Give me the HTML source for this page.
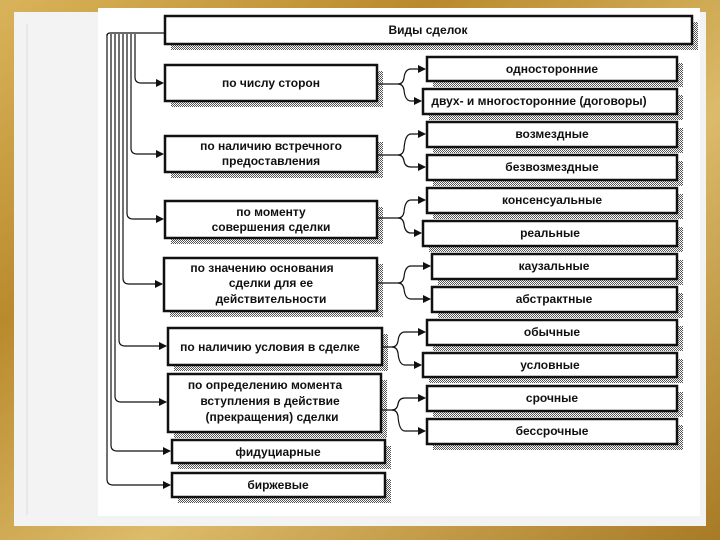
<!DOCTYPE html>
<html><head><meta charset="utf-8"><style>
html,body{margin:0;padding:0;width:720px;height:540px;overflow:hidden;background:#c9a042}
svg{display:block}
text{font-family:"Liberation Sans",Arial,sans-serif;font-size:12px;font-weight:bold;fill:#111}
</style></head><body>
<svg width="720" height="540" viewBox="0 0 720 540" xmlns="http://www.w3.org/2000/svg">
<defs>
<linearGradient id="gold" x1="0" y1="0" x2="1" y2="1">
<stop offset="0" stop-color="#d9b35a"/><stop offset="0.3" stop-color="#b98a2c"/><stop offset="0.6" stop-color="#dcbb6a"/><stop offset="1" stop-color="#a87a25"/></linearGradient>
<pattern id="chk" width="2" height="2" patternUnits="userSpaceOnUse"><rect width="2" height="2" fill="#fff"/><rect width="1" height="1" fill="#555"/><rect x="1" y="1" width="1" height="1" fill="#555"/></pattern>
<marker id="ar" markerWidth="8" markerHeight="8" refX="7" refY="4" orient="auto" markerUnits="userSpaceOnUse"><path d="M0,0 L8,4 L0,8 Z" fill="#111"/></marker>
</defs>
<rect width="720" height="540" fill="url(#gold)"/>
<rect x="14" y="12" width="692" height="514" fill="#f3f3f3"/>
<rect x="98" y="8" width="602" height="508" fill="#fff"/>
<line x1="27" y1="24" x2="27" y2="515" stroke="#ddd" stroke-width="1"/>
<g id="shadows" fill="url(#chk)">
<rect x="171" y="22" width="527" height="28"/>
<rect x="171" y="71" width="212" height="36"/>
<rect x="171" y="142" width="212" height="36"/>
<rect x="171" y="207" width="212" height="37"/>
<rect x="170" y="264" width="213" height="53"/>
<rect x="174" y="334" width="214" height="37"/>
<rect x="174" y="380" width="213" height="58"/>
<rect x="178" y="446" width="213" height="23"/>
<rect x="178" y="479" width="213" height="24"/>
<rect x="433" y="63" width="250" height="24"/>
<rect x="429" y="95" width="254" height="25"/>
<rect x="433" y="128" width="250" height="25"/>
<rect x="433" y="161" width="250" height="25"/>
<rect x="433" y="194" width="250" height="25"/>
<rect x="429" y="227" width="254" height="25"/>
<rect x="438" y="260" width="245" height="25"/>
<rect x="438" y="293" width="245" height="25"/>
<rect x="433" y="326" width="250" height="25"/>
<rect x="429" y="359" width="254" height="24"/>
<rect x="433" y="392" width="250" height="25"/>
<rect x="433" y="425" width="250" height="25"/>
</g>
<g fill="#fff" stroke="#111" stroke-width="2.5">
<rect x="165" y="16" width="527" height="28"/>
<rect x="165" y="65" width="212" height="36"/>
<rect x="165" y="136" width="212" height="36"/>
<rect x="165" y="201" width="212" height="37"/>
<rect x="164" y="258" width="213" height="53"/>
<rect x="168" y="328" width="214" height="37"/>
<rect x="168" y="374" width="213" height="58"/>
<rect x="172" y="440" width="213" height="23"/>
<rect x="172" y="473" width="213" height="24"/>
<rect x="427" y="57" width="250" height="24"/>
<rect x="423" y="89" width="254" height="25"/>
<rect x="427" y="122" width="250" height="25"/>
<rect x="427" y="155" width="250" height="25"/>
<rect x="427" y="188" width="250" height="25"/>
<rect x="423" y="221" width="254" height="25"/>
<rect x="432" y="254" width="245" height="25"/>
<rect x="432" y="287" width="245" height="25"/>
<rect x="427" y="320" width="250" height="25"/>
<rect x="423" y="353" width="254" height="24"/>
<rect x="427" y="386" width="250" height="25"/>
<rect x="427" y="419" width="250" height="25"/>
</g>
<g fill="none" stroke="#111" stroke-width="1.2">
<path d="M165,33 H110 Q107,33 107,36"/>
<path d="M135,34 V77 Q135,83 141,83 H163" marker-end="url(#ar)"/>
<path d="M131,34 V148 Q131,154 137,154 H163" marker-end="url(#ar)"/>
<path d="M127,34 V213 Q127,219 133,219 H163" marker-end="url(#ar)"/>
<path d="M123,34 V278 Q123,284 129,284 H162" marker-end="url(#ar)"/>
<path d="M119,34 V340 Q119,346 125,346 H166" marker-end="url(#ar)"/>
<path d="M115,34 V396 Q115,402 121,402 H166" marker-end="url(#ar)"/>
<path d="M111,34 V445 Q111,451 117,451 H170" marker-end="url(#ar)"/>
<path d="M107,34 V479 Q107,485 113,485 H170" marker-end="url(#ar)"/>
<path d="M377,84 H398 Q403,84 404,78 Q405,69 411,69 H425" marker-end="url(#ar)"/>
<path d="M398,84 Q403,84 404,90 Q405,101 411,101 H421" marker-end="url(#ar)"/>
<path d="M377,155 H398 Q403,155 404,149 Q405,134 411,134 H425" marker-end="url(#ar)"/>
<path d="M398,155 Q403,155 404,161 Q405,167 411,167 H425" marker-end="url(#ar)"/>
<path d="M377,218 H398 Q403,218 404,212 Q405,200 411,200 H425" marker-end="url(#ar)"/>
<path d="M398,218 Q403,218 404,224 Q405,233 411,233 H421" marker-end="url(#ar)"/>
<path d="M377,283 H398 Q403,283 404,277 Q405,266 411,266 H430" marker-end="url(#ar)"/>
<path d="M398,283 Q403,283 404,289 Q405,299 411,299 H430" marker-end="url(#ar)"/>
<path d="M382,347 H392 Q397,347 398,341 Q399,332 405,332 H425" marker-end="url(#ar)"/>
<path d="M392,347 Q397,347 398,353 Q399,365 405,365 H421" marker-end="url(#ar)"/>
<path d="M381,410 H392 Q397,410 398,404 Q399,398 405,398 H425" marker-end="url(#ar)"/>
<path d="M392,410 Q397,410 398,416 Q399,431 405,431 H425" marker-end="url(#ar)"/>
</g>
<g text-anchor="middle">
<text x="428" y="34">Виды сделок</text>
<text x="271" y="87">по числу сторон</text>
<text x="271" y="150">по наличию встречного</text>
<text x="271" y="165">предоставления</text>
<text x="271" y="216">по моменту</text>
<text x="271" y="231">совершения сделки</text>
<text x="262" y="272">по значению основания</text>
<text x="271" y="287">сделки для ее</text>
<text x="271" y="303">действительности</text>
<text x="270" y="351">по наличию условия в сделке</text>
<text x="265" y="389">по определению момента</text>
<text x="270" y="405">вступления в действие</text>
<text x="272" y="421">(прекращения) сделки</text>
<text x="278" y="456">фидуциарные</text>
<text x="278" y="489">биржевые</text>
<text x="552" y="73">односторонние</text>
<text x="539" y="105">двух- и многосторонние (договоры)</text>
<text x="552" y="138">возмездные</text>
<text x="552" y="171">безвозмездные</text>
<text x="552" y="204">консенсуальные</text>
<text x="550" y="237">реальные</text>
<text x="554" y="270">каузальные</text>
<text x="554" y="303">абстрактные</text>
<text x="552" y="336">обычные</text>
<text x="550" y="369">условные</text>
<text x="552" y="402">срочные</text>
<text x="552" y="435">бессрочные</text>
</g>
</svg>
</body></html>
